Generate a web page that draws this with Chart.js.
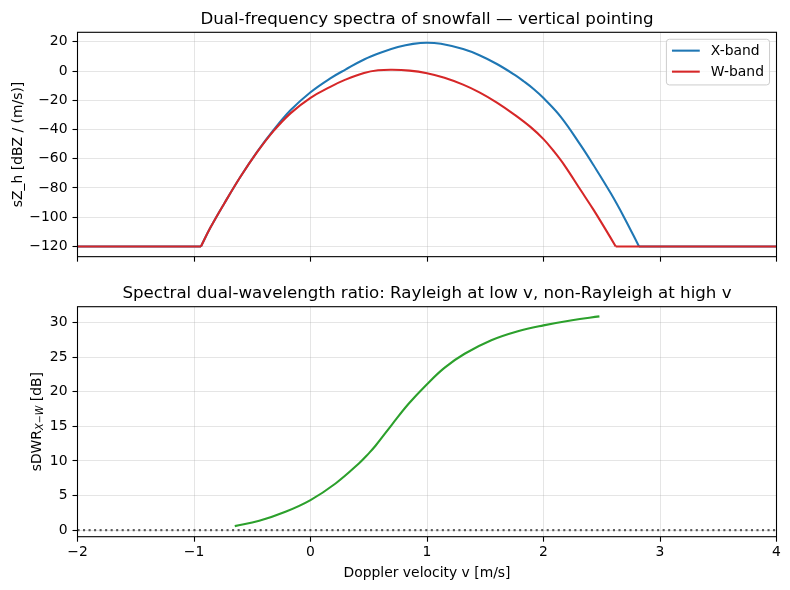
<!DOCTYPE html>
<html><head><meta charset="utf-8">
<script src="https://cdn.jsdelivr.net/npm/chart.js@4.4.1/dist/chart.umd.min.js"></script>
<style>
html,body{margin:0;padding:0;background:#fff;}
#wrap{position:relative;width:790px;height:590px;overflow:hidden;}
canvas{position:absolute;left:0;}
</style></head><body>
<div id="wrap">
<canvas id="cTop" width="790" height="270" style="top:0px"></canvas>
<canvas id="cBot" width="790" height="320" style="top:270px"></canvas>
</div>
<script>
// ---------- data ----------
const FLOOR = -120;
const velX = [-2.0, -0.94, -0.86, -0.74, -0.60, -0.46, -0.32, -0.17, 0.0, 0.17, 0.30, 0.46, 0.60, 0.75, 0.88, 1.00, 1.12, 1.31, 1.45, 1.60, 1.75, 1.83, 1.92, 2.00, 2.15, 2.32, 2.43, 2.58, 2.69, 2.82, 4.0];
const zX   = [-120, -120, -107.3, -90.6, -72.2, -55.5, -40.7, -26.7, -14.5, -5.0, 1.0, 7.9, 12.5, 16.4, 18.6, 19.4, 18.6, 15.0, 10.8, 4.8, -2.5, -7.0, -12.6, -18.5, -31.5, -50.9, -64.5, -84.0, -99.8, -120, -120];
const velW = [-2.0, -0.94, -0.86, -0.74, -0.60, -0.46, -0.32, -0.17, 0.0, 0.17, 0.30, 0.46, 0.58, 0.70, 0.85, 1.00, 1.15, 1.31, 1.45, 1.60, 1.75, 1.89, 2.00, 2.09, 2.18, 2.32, 2.43, 2.53, 2.62, 4.0];
const zW   = [-120, -120, -107.3, -90.6, -72.2, -55.7, -41.3, -28.8, -18.3, -10.8, -5.9, -1.3, 0.5, 0.9, 0.3, -1.5, -4.6, -9.3, -14.6, -21.6, -29.8, -38.4, -46.6, -55.0, -64.5, -81.6, -95.0, -108.0, -120, -120];
const velD = [-0.65, -0.44, -0.215, 0.0, 0.215, 0.415, 0.50, 0.558, 0.701, 0.844, 1.0, 1.152, 1.323, 1.552, 1.78, 2.0, 2.245, 2.48];
const sdwr = [0.58, 1.35, 2.65, 4.34, 6.74, 9.63, 11.1, 12.2, 15.3, 18.3, 21.1, 23.5, 25.5, 27.45, 28.75, 29.6, 30.35, 30.9];
const refLine = 0;

const xLim = [-2, 4];
const yLimTop = [-127, 26.5];
const yLimBot = [-0.95, 32.3];
const xTicks = [-2, -1, 0, 1, 2, 3, 4];
const yTicksTop = [-120, -100, -80, -60, -40, -20, 0, 20];
const yTicksBot = [0, 5, 10, 15, 20, 25, 30];

const seriesNames = ['X-band', 'W-band'];
const COLORS = {x: '#1f77b4', w: '#d62728', d: '#2ca02c'};

// ---------- helpers ----------
const FONT = "'DejaVu Sans', 'Liberation Sans', sans-serif";
const FS = 13.9, FST = 16.67, LW = 2.08;
Chart.defaults.font.family = FONT;
Chart.defaults.font.size = FS;
Chart.defaults.color = '#000';

const fmt = v => (v < 0 ? '\u2212' : '') + Math.abs(v);
const pts = (vs, ys) => vs.map((v, i) => ({x: v, y: ys[i]}));
function splitFloor(vs, zs) {
  let i0 = 0; while (i0 + 1 < zs.length && zs[i0 + 1] === FLOOR) i0++;
  let i1 = zs.length - 1; while (i1 - 1 >= 0 && zs[i1 - 1] === FLOOR) i1--;
  const all = pts(vs, zs);
  return {left: all.slice(0, i0 + 1), mid: all.slice(i0, i1 + 1), right: all.slice(i1)};
}
function lineDs(label, data, color, order, curve) {
  return {label, data, borderColor: color, backgroundColor: color, borderWidth: LW,
    pointRadius: 0, fill: false, order, borderJoinStyle: 'round',
    cubicInterpolationMode: 'default', tension: curve ? 0.4 : 0};
}
function xScale(showLabels, height) {
  return {type: 'linear', min: xLim[0], max: xLim[1],
    afterBuildTicks: s => { s.ticks = xTicks.map(v => ({value: v})); },
    afterFit: s => { s.height = height; },
    ticks: {display: showLabels, callback: fmt, padding: 2.5, maxRotation: 0, autoSkip: false, font: {size: FS}},
    grid: {color: 'rgba(176,176,176,0.33)', lineWidth: 1, drawTicks: true, tickLength: 5, tickColor: '#000', tickWidth: 1.1},
    border: {display: false}, title: {display: false}};
}
function yScale(lim, ticks) {
  return {type: 'linear', min: lim[0], max: lim[1],
    afterBuildTicks: s => { s.ticks = ticks.map(v => ({value: v})); },
    afterFit: s => { s.width = 77.5; },
    ticks: {callback: fmt, padding: 5, autoSkip: false, font: {size: FS}},
    grid: {color: 'rgba(176,176,176,0.33)', lineWidth: 1, drawTicks: true, tickLength: 5, tickColor: '#000', tickWidth: 1.1},
    border: {display: false}, title: {display: false}};
}

const deco = {
  id: 'deco',
  afterDraw(chart, args, o) {
    const ctx = chart.ctx, a = chart.chartArea;
    ctx.save();
    // spines
    ctx.strokeStyle = '#000'; ctx.lineWidth = 1.1;
    ctx.strokeRect(a.left, a.top, a.right - a.left, a.bottom - a.top);
    const cx = (a.left + a.right) / 2, cy = (a.top + a.bottom) / 2;
    // title
    ctx.fillStyle = '#000';
    ctx.font = FST + 'px ' + FONT;
    ctx.textAlign = 'center'; ctx.textBaseline = 'alphabetic';
    ctx.fillText(o.title, cx, o.titleY);
    // x label
    if (o.xlabel) {
      ctx.font = FS + 'px ' + FONT;
      ctx.fillText(o.xlabel, cx, o.xlabelY);
    }
    // y label
    ctx.save();
    ctx.translate(o.ylabelX, cy);
    ctx.rotate(-Math.PI / 2);
    ctx.textBaseline = 'alphabetic';
    if (o.ylabelParts) {
      const parts = o.ylabelParts;
      let total = 0;
      const ws = parts.map(p => { ctx.font = (p.italic ? 'italic ' : '') + p.size + 'px ' + FONT; const w = ctx.measureText(p.text).width; total += w; return w; });
      let x = -total / 2;
      ctx.textAlign = 'left';
      parts.forEach((p, i) => { ctx.font = (p.italic ? 'italic ' : '') + p.size + 'px ' + FONT; ctx.fillText(p.text, x, p.dy || 0); x += ws[i]; });
    } else {
      ctx.font = FS + 'px ' + FONT; ctx.textAlign = 'center';
      ctx.fillText(o.ylabel, 0, 0);
    }
    ctx.restore();
    // legend
    if (o.legend) {
      const items = chart.data.datasets.filter(d => seriesNames.includes(d.label) && !d.hideInLegend);
      ctx.font = FS + 'px ' + FONT;
      const tw = Math.max(...items.map(d => ctx.measureText(d.label).width));
      const bp = 5.56, hl = 27.8, hp = 11.1;
      const right = a.right - 6.95, top = a.top + 6.95;
      const w = 2 * bp + hl + hp + tw, h = 45.7;
      const left = right - w;
      ctx.beginPath();
      if (ctx.roundRect) ctx.roundRect(left, top, w, h, 3); else ctx.rect(left, top, w, h);
      ctx.fillStyle = 'rgba(255,255,255,0.8)'; ctx.fill();
      ctx.strokeStyle = '#cccccc'; ctx.lineWidth = 1; ctx.stroke();
      items.forEach((d, i) => {
        const yy = top + 11.4 + i * 21;
        ctx.strokeStyle = d.borderColor; ctx.lineWidth = LW;
        ctx.beginPath(); ctx.moveTo(left + bp, yy); ctx.lineTo(left + bp + hl, yy); ctx.stroke();
        ctx.fillStyle = '#000'; ctx.textAlign = 'left'; ctx.textBaseline = 'middle';
        ctx.fillText(d.label, left + bp + hl + hp, yy + 0.5);
      });
    }
    ctx.restore();
  }
};

// ---------- top chart ----------
const sx = splitFloor(velX, zX), sw = splitFloor(velW, zW);
const topDatasets = [
  lineDs(seriesNames[0], sx.mid, COLORS.x, 2, true),
  Object.assign(lineDs('X-tail-left', sx.left, COLORS.x, 2, false), {hideInLegend: true}),
  Object.assign(lineDs('X-tail-right', sx.right, COLORS.x, 2, false), {hideInLegend: true}),
  lineDs(seriesNames[1], sw.mid, COLORS.w, 1, true),
  Object.assign(lineDs('W-tail-left', sw.left, COLORS.w, 1, false), {hideInLegend: true}),
  Object.assign(lineDs('W-tail-right', sw.right, COLORS.w, 1, false), {hideInLegend: true}),
];
new Chart(document.getElementById('cTop'), {
  type: 'line',
  data: {datasets: topDatasets},
  options: {
    responsive: false, animation: false, devicePixelRatio: 1, events: [],
    layout: {padding: {left: 0, right: 13.5, top: 32.3, bottom: 0}},
    scales: {x: xScale(false, 270 - 263.3), y: yScale(yLimTop, yTicksTop)},
    plugins: {legend: {display: false}, tooltip: {enabled: false}, title: {display: false},
      deco: {title: 'Dual-frequency spectra of snowfall \u2014 vertical pointing', titleY: 24,
        ylabel: 'sZ_h [dBZ / (m/s)]', ylabelX: 21.5, legend: true}}
  },
  plugins: [deco]
});

// ---------- bottom chart ----------
new Chart(document.getElementById('cBot'), {
  type: 'line',
  data: {datasets: [
    lineDs('sDWR', pts(velD, sdwr), COLORS.d, 1, true),
    Object.assign(lineDs('zero', pts(xLim, [refLine, refLine]), 'rgba(0,0,0,0.62)', 2, false), {borderDash: [2.08, 3.44], borderWidth: 2.08, borderCapStyle: 'butt'})
  ]},
  options: {
    responsive: false, animation: false, devicePixelRatio: 1, events: [],
    layout: {padding: {left: 0, right: 13.5, top: 36.7, bottom: 0}},
    scales: {x: xScale(true, 320 - 266.7), y: yScale(yLimBot, yTicksBot)},
    plugins: {legend: {display: false}, tooltip: {enabled: false}, title: {display: false},
      deco: {title: 'Spectral dual-wavelength ratio: Rayleigh at low v, non-Rayleigh at high v', titleY: 27.7,
        xlabel: 'Doppler velocity v [m/s]', xlabelY: 306.7,
        ylabelX: 40.5,
        ylabelParts: [{text: 'sDWR', size: FS}, {text: 'X\u2212W', size: 9.7, italic: true, dy: 2.9}, {text: ' [dB]', size: FS}]}}
  },
  plugins: [deco]
});
</script>
</body></html>
